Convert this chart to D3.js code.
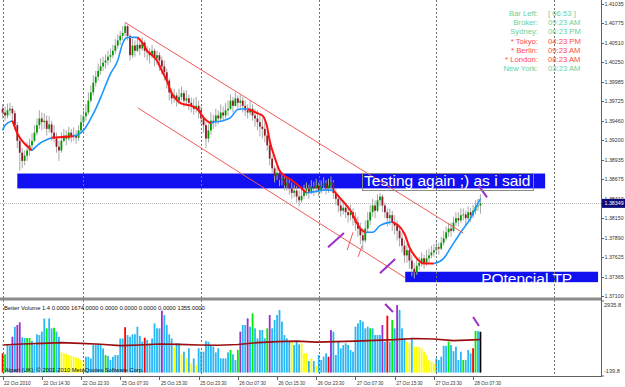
<!DOCTYPE html>
<html>
<head>
<meta charset="utf-8">
<script src="https://cdn.jsdelivr.net/npm/d3@7"></script>
<style>
  body { margin: 0; background: #fff; }
  svg { display: block; font-family: "Liberation Sans", Arial, sans-serif; }
</style>
</head>
<body>
<svg id="chart" width="625" height="387"></svg>
<script>
// EURUSD M30, 22 Oct - 28 Oct 2010
var firstOpen = 1.3962
var closes = [
  1.3957,1.3953,1.3960,1.3962,1.3956,1.3940,1.3919,1.3903,1.3892,1.3899,
  1.3906,1.3913,1.3919,1.3930,1.3940,1.3949,1.3944,1.3946,1.3935,1.3941,
  1.3930,1.3922,1.3911,1.3906,1.3919,1.3926,1.3922,1.3930,1.3925,1.3927,
  1.3923,1.3933,1.3944,1.3952,1.3957,1.3973,1.3984,1.3997,1.4005,1.4013,
  1.4019,1.4024,1.4027,1.4032,1.4034,1.4040,1.4047,1.4054,1.4060,1.4064,
  1.4073,1.4060,1.4034,1.4047,1.4040,1.4048,1.4043,1.4051,1.4040,1.4038,
  1.4034,1.4040,1.4030,1.4034,1.4027,1.4019,1.4011,1.4000,1.3984,1.3976,
  1.3980,1.3973,1.3978,1.3983,1.3973,1.3976,1.3970,1.3966,1.3962,1.3966,
  1.3960,1.3949,1.3940,1.3922,1.3933,1.3946,1.3944,1.3953,1.3949,1.3957,
  1.3953,1.3960,1.3962,1.3973,1.3966,1.3976,1.3970,1.3973,1.3966,1.3960,
  1.3957,1.3962,1.3953,1.3949,1.3944,1.3938,1.3935,1.3926,1.3913,1.3895,
  1.3882,1.3872,1.3876,1.3866,1.3868,1.3859,1.3862,1.3855,1.3849,1.3852,
  1.3844,1.3839,1.3845,1.3852,1.3855,1.3849,1.3858,1.3855,1.3859,1.3852,
  1.3858,1.3862,1.3855,1.3859,1.3863,1.3849,1.3841,1.3832,1.3825,1.3829,
  1.3823,1.3819,1.3823,1.3815,1.3809,1.3801,1.3792,1.3785,1.3801,1.3812,
  1.3823,1.3832,1.3825,1.3839,1.3844,1.3832,1.3823,1.3815,1.3819,1.3809,
  1.3805,1.3798,1.3788,1.3778,1.3765,1.3772,1.3758,1.3747,1.3742,1.3751,
  1.3755,1.3761,1.3755,1.3761,1.3765,1.3769,1.3772,1.3776,1.3774,1.3782,
  1.3788,1.3796,1.3801,1.3798,1.3809,1.3815,1.3812,1.3819,1.3820,1.3815,
  1.3823,1.3819,1.3825,1.3831,1.3832,1.3835
]
var highs = [
  1.3968,1.3965,1.3969,1.3970,1.3966,1.3960,1.3944,1.3922,1.3909,1.3906,
  1.3917,1.3922,1.3929,1.3940,1.3949,1.3960,1.3957,1.3956,1.3953,1.3952,
  1.3946,1.3940,1.3930,1.3919,1.3930,1.3935,1.3933,1.3938,1.3935,1.3937,
  1.3933,1.3940,1.3954,1.3960,1.3968,1.3984,1.3993,1.4007,1.4013,1.4023,
  1.4030,1.4032,1.4035,1.4040,1.4043,1.4048,1.4056,1.4062,1.4067,1.4073,
  1.4078,1.4075,1.4062,1.4056,1.4054,1.4056,1.4054,1.4058,1.4054,1.4047,
  1.4044,1.4048,1.4043,1.4040,1.4038,1.4032,1.4027,1.4016,1.4003,1.3989,
  1.3989,1.3984,1.3989,1.3992,1.3987,1.3987,1.3981,1.3977,1.3976,1.3978,
  1.3973,1.3965,1.3953,1.3944,1.3941,1.3957,1.3954,1.3962,1.3960,1.3968,
  1.3965,1.3970,1.3973,1.3981,1.3978,1.3984,1.3980,1.3981,1.3978,1.3973,
  1.3968,1.3973,1.3968,1.3962,1.3960,1.3954,1.3949,1.3944,1.3933,1.3917,
  1.3899,1.3886,1.3884,1.3879,1.3876,1.3872,1.3871,1.3868,1.3863,1.3860,
  1.3858,1.3852,1.3855,1.3860,1.3863,1.3860,1.3866,1.3864,1.3868,1.3863,
  1.3866,1.3870,1.3866,1.3868,1.3871,1.3866,1.3855,1.3847,1.3839,1.3839,
  1.3836,1.3831,1.3833,1.3828,1.3823,1.3817,1.3809,1.3801,1.3812,1.3823,
  1.3833,1.3841,1.3839,1.3847,1.3849,1.3847,1.3836,1.3828,1.3828,1.3825,
  1.3819,1.3812,1.3804,1.3796,1.3785,1.3780,1.3777,1.3765,1.3755,1.3761,
  1.3763,1.3769,1.3766,1.3772,1.3774,1.3778,1.3780,1.3785,1.3782,1.3790,
  1.3798,1.3804,1.3809,1.3809,1.3817,1.3823,1.3823,1.3828,1.3828,1.3825,
  1.3831,1.3829,1.3833,1.3839,1.3841,1.3847
]
var lows = [
  1.3949,1.3946,1.3949,1.3953,1.3946,1.3933,1.3909,1.3879,1.3882,1.3886,
  1.3892,1.3899,1.3906,1.3917,1.3926,1.3935,1.3933,1.3935,1.3926,1.3930,
  1.3919,1.3917,1.3903,1.3892,1.3903,1.3917,1.3913,1.3919,1.3917,1.3919,
  1.3915,1.3919,1.3930,1.3938,1.3946,1.3954,1.3970,1.3980,1.3992,1.4000,
  1.4008,1.4013,1.4016,1.4021,1.4024,1.4030,1.4036,1.4043,1.4048,1.4054,
  1.4059,1.4054,1.4027,1.4030,1.4032,1.4038,1.4034,1.4040,1.4031,1.4027,
  1.4023,1.4030,1.4019,1.4021,1.4013,1.4008,1.4000,1.3989,1.3973,1.3968,
  1.3970,1.3965,1.3968,1.3973,1.3965,1.3966,1.3960,1.3957,1.3954,1.3957,
  1.3949,1.3941,1.3930,1.3909,1.3917,1.3927,1.3935,1.3938,1.3941,1.3944,
  1.3946,1.3949,1.3953,1.3960,1.3957,1.3965,1.3962,1.3962,1.3957,1.3952,
  1.3949,1.3953,1.3946,1.3938,1.3933,1.3925,1.3922,1.3917,1.3906,1.3886,
  1.3876,1.3863,1.3866,1.3858,1.3859,1.3852,1.3852,1.3847,1.3841,1.3843,
  1.3836,1.3831,1.3836,1.3841,1.3845,1.3841,1.3847,1.3845,1.3849,1.3844,
  1.3848,1.3852,1.3847,1.3849,1.3852,1.3841,1.3833,1.3823,1.3817,1.3820,
  1.3815,1.3809,1.3812,1.3805,1.3798,1.3790,1.3780,1.3772,1.3782,1.3796,
  1.3806,1.3817,1.3815,1.3823,1.3831,1.3823,1.3815,1.3804,1.3806,1.3798,
  1.3793,1.3785,1.3777,1.3769,1.3755,1.3755,1.3747,1.3737,1.3734,1.3739,
  1.3745,1.3750,1.3747,1.3751,1.3755,1.3761,1.3763,1.3766,1.3766,1.3772,
  1.3778,1.3785,1.3790,1.3790,1.3796,1.3804,1.3804,1.3809,1.3812,1.3806,
  1.3812,1.3810,1.3815,1.3820,1.3825,1.3821
]
var bidPrice = 1.38349

// smoothed MA readings: bar index, price, colour of the segment ending there
var maBars = [0,1,4,6,9,11,12,15,20,29,30,33,36,38,40,44,47,49,51,55,57,59,61,63,65,67,69,71,73,77,80,82,85,86,90,93,96,100,104,106,108,109,111,113,115,118,122,124,128,132,135,138,142,146,148,151,154,159,164,166,169,172,176,180,183,187,191,194,195]
var maPrices = [1.3933,1.3940,1.3946,1.3929,1.3915,1.3909,1.3906,1.3915,1.3923,1.3925,1.3926,1.3933,1.3949,1.3962,1.3977,1.4009,1.4027,1.4050,1.4058,1.4058,1.4051,1.4040,1.4034,1.4027,1.4013,1.4000,1.3983,1.3974,1.3969,1.3966,1.3960,1.3950,1.3942,1.3944,1.3946,1.3950,1.3961,1.3962,1.3956,1.3953,1.3937,1.3919,1.3897,1.3879,1.3872,1.3866,1.3855,1.3849,1.3851,1.3853,1.3852,1.3841,1.3825,1.3801,1.3796,1.3796,1.3805,1.3810,1.3794,1.3776,1.3761,1.3754,1.3754,1.3761,1.3776,1.3796,1.3815,1.3835,1.3841]
var maColors = 'bbbrrrrbbrbbbbbbbbbbrrrrrrrrrrrrrbbbbbrrrrrrrrrrbbbrrrrbbbrrrrrbbbbbb'.split('')

// Better Volume sub-window
var volumes = [
  790,750,1130,1100,1470,1880,1950,2060,1450,1420,
  1420,1420,1300,1130,1570,1540,1680,2220,1815,2220,
  1815,1840,1680,1470,830,790,760,720,690,650,
  620,585,520,450,650,650,580,1130,1130,1130,
  1130,995,720,680,520,650,720,720,1400,1400,
  1860,1540,1470,1570,1570,1880,1500,1270,1430,1340,
  1200,1400,2020,1815,1815,2540,2360,1950,1570,1400,
  1060,1200,1200,750,860,585,1000,380,580,310,
  1000,858,858,1295,1268,1131,1063,830,995,585,
  585,585,830,926,749,516,926,1678,1951,1951,
  2225,1883,2430,1815,1405,1746,1746,1405,1815,2362,
  1815,2157,2362,2567,2088,1541,1405,1268,1268,1131,
  1268,1159,1200,790,790,475,585,475,284,721,
  516,653,790,653,1746,1678,721,1268,995,1131,
  1200,1131,926,858,1883,2020,2157,2088,1815,1883,
  1815,1815,1541,1541,1541,1951,1268,2334,1268,2157,
  1815,2772,2567,1815,1405,1270,1200,1430,1060,1060,
  1060,995,858,720,516,450,380,585,516,653,
  1100,1100,1270,1130,880,1063,516,858,516,516,
  926,790,1000,1705,1705,1674
]
var volColors = ('rgccpcppccggccccccgccgccyyyyyyyyyyccccccccgccccccc' +
  'rcccccccrccccccpccccyccycycycycccccccccccccgccgpcc' +
  'pcgcccccgpccccccccycccyyycycyccccrpcccccccccccccc' +
  'cgccccpcrcgcpcccyycyyyyyyyyycccccgcccccgcccrgc').split('')
var volMaBars = [0,8,16,24,32,40,48,56,64,72,80,88,96,104,112,120,128,136,144,152,160,168,176,184,192,195]
var volMa = [1131,1170,1200,1227,1200,1160,1104,1131,1170,1159,1131,1120,1150,1230,1268,1290,1250,1268,1290,1320,1350,1400,1380,1310,1340,1355]
var volMin = -139.8
var volMax = 2935.8

// axes
var priceTicks = [1.41035,1.40775,1.40510,1.40250,1.39985,1.39725,1.39460,1.39200,1.38935,1.38675,1.38410,1.38150,1.37890,1.37625,1.37365,1.37100]
var timeBars = [0,16,32,48,64,80,96,112,128,144,160,176,192]
var timeLabels = ['22 Oct 2010','22 Oct 14:30','22 Oct 22:30','25 Oct 07:30','25 Oct 15:30','25 Oct 23:30','26 Oct 07:30','26 Oct 15:30','26 Oct 23:30','27 Oct 07:30','27 Oct 15:30','27 Oct 23:30','28 Oct 07:30']
var separatorBars = [0,33,81,129,177,225]

// drawn objects (bar index / price)
var rects = [
  {b1: 6, b2: 221.4, p1: 1.3875, p2: 1.3855},
  {b1: 164.3, b2: 243, p1: 1.3743, p2: 1.3729}
]
var channel = [
  [50, 1.4078, 188, 1.3795],
  [55.3, 1.3963, 164.3, 1.3735],
  [140.6, 1.3772, 143.0, 1.3796],
  [145.1, 1.3763, 146.7, 1.3778]
]
var arrows = [
  [132.8, 1.3776, 139.3, 1.3795],
  [154.0, 1.3741, 160.2, 1.3760],
  [194.0, 1.3860, 197.7, 1.3843]
]
var volArrows = [
  [156.1, 2812, 159.3, 2485],
  [192.0, 2280, 194.4, 1911]
]
var texts = [
  {t: 'Testing again ;) as i said', b: 147.5, p: 1.3858, box: [146.7, 216.5, 1.3876, 1.3853]},
  {t: 'POtencial TP', b: 195.3, p: 1.3727}
]
var clockNames = ['Bar Left:', 'Broker:', 'Sydney:', '* Tokyo:', '* Berlin:', '* London:', 'New York:']
var clockValues = ['[ 06:53 ]', '09:23 AM', '06:23 PM', '04:23 PM', '09:23 AM', '08:23 AM', '03:23 AM']
var clockOpen = [0, 0, 0, 1, 1, 1, 0]

var svg = d3.select('#chart')
var x = d3.scaleLinear().domain([0, 244.2]).range([2.6, 601])
var y = d3.scaleLinear().domain([1.37100, 1.41035]).range([296.3, 3.5])
var yv = d3.scaleLinear().domain([volMin, volMax]).range([376, 301])

var volPalette = {c: '#2ab8f4', y: '#ffff00', g: '#00ee00', r: '#ff0000', p: '#9a30c8'}

svg.append('rect').attr('width', 625).attr('height', 387).attr('fill', '#fff')

var defs = svg.append('defs')
defs.append('clipPath').attr('id', 'mainClip')
  .append('rect').attr('x', 0).attr('y', 0).attr('width', 601).attr('height', 297)
defs.append('clipPath').attr('id', 'subClip')
  .append('rect').attr('x', 0).attr('y', 301).attr('width', 601).attr('height', 75)

var main = svg.append('g').attr('clip-path', 'url(#mainClip)')
var sub = svg.append('g').attr('clip-path', 'url(#subClip)')

// background rectangles
main.selectAll('rect.zone')
  .data(rects)
  .enter()
  .append('rect')
  .attr('x', function (d) { return x(d.b1) })
  .attr('width', function (d) { return x(d.b2) - x(d.b1) })
  .attr('y', function (d) { return y(d.p1) })
  .attr('height', function (d) { return y(d.p2) - y(d.p1) })
  .attr('fill', '#1010f0')

// period separators
svg.selectAll('line.sep')
  .data(separatorBars)
  .enter()
  .append('line')
  .attr('x1', function (d) { return Math.round(x(d)) + 0.5 })
  .attr('x2', function (d) { return Math.round(x(d)) + 0.5 })
  .attr('y1', 0)
  .attr('y2', 376)
  .attr('stroke', '#707070')
  .attr('stroke-dasharray', '2,2')

// bid line
main.append('line')
  .attr('x1', 0).attr('x2', 601)
  .attr('y1', Math.round(y(bidPrice)) + 0.5)
  .attr('y2', Math.round(y(bidPrice)) + 0.5)
  .attr('stroke', '#b8b8b8')
  .attr('stroke-dasharray', '1,1')

// candles
var bars = closes.map(function (c, i) {
  var o = i ? closes[i - 1] : firstOpen
  return {i: i, o: o, c: c, h: Math.max(highs[i], o, c), l: Math.min(lows[i], o, c)}
})
var candle = main.selectAll('g.candle')
  .data(bars)
  .enter()
  .append('g')
candle.append('line')
  .attr('x1', function (d) { return x(d.i) })
  .attr('x2', function (d) { return x(d.i) })
  .attr('y1', function (d) { return y(d.h) })
  .attr('y2', function (d) { return y(d.l) })
  .attr('stroke', '#a8a8a8')
  .attr('stroke-width', 1)
candle.append('rect')
  .attr('x', function (d) { return x(d.i) - 0.9 })
  .attr('width', 1.8)
  .attr('y', function (d) { return y(Math.max(d.o, d.c)) })
  .attr('height', function (d) { return Math.max(0.8, Math.abs(y(d.o) - y(d.c))) })
  .attr('fill', function (d) { return d.c > d.o ? '#009a00' : d.c < d.o ? '#8e1b2a' : '#a8a8a8' })

// colour-switching moving average
var runs = []
for (var k = 1; k < maBars.length; k++) {
  if (!runs.length || runs[runs.length - 1].c !== maColors[k]) {
    runs.push({c: maColors[k], pts: [[maBars[k - 1], maPrices[k - 1]]]})
  }
  runs[runs.length - 1].pts.push([maBars[k], maPrices[k]])
}
var maLine = d3.line()
  .x(function (d) { return x(d[0]) })
  .y(function (d) { return y(d[1]) })
  .curve(d3.curveMonotoneX)
main.selectAll('path.ma')
  .data(runs)
  .enter()
  .append('path')
  .attr('d', function (d) { return maLine(d.pts) })
  .attr('fill', 'none')
  .attr('stroke', function (d) { return d.c === 'r' ? '#ff1010' : '#1e96ff' })
  .attr('stroke-width', function (d) { return d.c === 'r' ? 2 : 1.6 })

// channel and small trend lines
main.selectAll('line.trend')
  .data(channel)
  .enter()
  .append('line')
  .attr('x1', function (d) { return x(d[0]) })
  .attr('y1', function (d) { return y(d[1]) })
  .attr('x2', function (d) { return x(d[2]) })
  .attr('y2', function (d) { return y(d[3]) })
  .attr('stroke', '#f05a5a')
  .attr('stroke-width', 1)

main.selectAll('line.arrow')
  .data(arrows)
  .enter()
  .append('line')
  .attr('x1', function (d) { return x(d[0]) })
  .attr('y1', function (d) { return y(d[1]) })
  .attr('x2', function (d) { return x(d[2]) })
  .attr('y2', function (d) { return y(d[3]) })
  .attr('stroke', '#9a30c8')
  .attr('stroke-width', 2)

// text objects
texts.forEach(function (d) {
  if (d.box) {
    main.append('rect')
      .attr('x', Math.round(x(d.box[0])) + 0.5)
      .attr('y', Math.round(y(d.box[2])) + 0.5)
      .attr('width', Math.round(x(d.box[1]) - x(d.box[0])))
      .attr('height', Math.round(y(d.box[3]) - y(d.box[2])))
      .attr('fill', 'none')
      .attr('stroke', '#8c8c8c')
  }
  main.append('text')
    .attr('x', x(d.b))
    .attr('y', y(d.p))
    .attr('fill', '#fff')
    .style('font-size', '15.5px')
    .text(d.t)
})

// session clock
var clock = svg.append('g').style('font-size', '7.7px')
clock.selectAll('text.name')
  .data(clockNames)
  .enter()
  .append('text')
  .attr('x', 538)
  .attr('y', function (d, i) { return 16 + i * 9.2 })
  .attr('text-anchor', 'end')
  .attr('fill', function (d, i) { return clockOpen[i] ? '#ff4a4a' : '#6ccf9c' })
  .text(function (d) { return d })
clock.selectAll('text.val')
  .data(clockValues)
  .enter()
  .append('text')
  .attr('x', 548)
  .attr('y', function (d, i) { return 16 + i * 9.2 })
  .attr('fill', function (d, i) { return clockOpen[i] ? '#ff4a4a' : '#6ccf9c' })
  .text(function (d) { return d })

// sub-window
svg.append('rect')
  .attr('x', 0).attr('y', 297.5).attr('width', 602).attr('height', 3)
  .attr('fill', '#8c8c8c')

sub.selectAll('rect.vol')
  .data(volumes)
  .enter()
  .append('rect')
  .attr('x', function (d, i) { return x(i) - 0.9 })
  .attr('width', 1.8)
  .attr('y', function (d) { return yv(d) })
  .attr('height', function (d) { return yv(0) - yv(d) })
  .attr('fill', function (d, i) { return volPalette[volColors[i]] })

var volLine = d3.line()
  .x(function (d, i) { return x(volMaBars[i]) })
  .y(function (d) { return yv(d) })
sub.append('path')
  .attr('d', volLine(volMa))
  .attr('fill', 'none')
  .attr('stroke', '#9a1010')
  .attr('stroke-width', 1.6)

sub.selectAll('line.varrow')
  .data(volArrows)
  .enter()
  .append('line')
  .attr('x1', function (d) { return x(d[0]) })
  .attr('y1', function (d) { return yv(d[1]) })
  .attr('x2', function (d) { return x(d[2]) })
  .attr('y2', function (d) { return yv(d[3]) })
  .attr('stroke', '#9a30c8')
  .attr('stroke-width', 2)

svg.append('text')
  .attr('x', 4).attr('y', 310)
  .style('font-size', '5.8px')
  .attr('fill', '#111')
  .text('Better Volume 1.4 0.0000 ' + volumes[volumes.length - 1].toFixed(4) + ' 0.0000 0.0000 0.0000 0.0000 ' + volMa[volMa.length - 1].toFixed(4))
svg.append('text')
  .attr('x', 5).attr('y', 372)
  .style('font-size', '5.8px')
  .attr('fill', '#111')
  .text('Alpari (UK), \u00a9 2001-2010 MetaQuotes Software Corp.')

// price scale
svg.append('line')
  .attr('x1', 601.5).attr('x2', 601.5).attr('y1', 0).attr('y2', 377)
  .attr('stroke', '#606060')
svg.selectAll('line.ptick')
  .data(priceTicks)
  .enter()
  .append('line')
  .attr('x1', 601.5).attr('x2', 604)
  .attr('y1', function (d) { return Math.round(y(d)) + 0.5 })
  .attr('y2', function (d) { return Math.round(y(d)) + 0.5 })
  .attr('stroke', '#606060')
svg.selectAll('text.ptick')
  .data(priceTicks)
  .enter()
  .append('text')
  .attr('x', 604.5)
  .attr('y', function (d) { return Math.min(y(d) + 2, 299) })
  .style('font-size', '5.3px')
  .attr('fill', '#333')
  .text(function (d) { return d.toFixed(5) })

svg.append('rect')
  .attr('x', 602).attr('y', y(bidPrice) - 4.5)
  .attr('width', 23).attr('height', 9)
  .attr('fill', '#0a0a78')
svg.append('text')
  .attr('x', 604.5).attr('y', y(bidPrice) + 2)
  .style('font-size', '5.3px')
  .attr('fill', '#fff')
  .text(bidPrice.toFixed(5))

svg.selectAll('text.vtick')
  .data([[volMax, 307], [volMin, 373]])
  .enter()
  .append('text')
  .attr('x', 604)
  .attr('y', function (d) { return d[1] })
  .style('font-size', '5.6px')
  .attr('fill', '#333')
  .text(function (d) { return d[0].toFixed(1) })
svg.selectAll('line.vtick')
  .data([volMax, volMin])
  .enter()
  .append('line')
  .attr('x1', 601.5).attr('x2', 604)
  .attr('y1', function (d) { return yv(d) })
  .attr('y2', function (d) { return yv(d) })
  .attr('stroke', '#606060')

// time scale
svg.append('line')
  .attr('x1', 0).attr('x2', 602).attr('y1', 376.5).attr('y2', 376.5)
  .attr('stroke', '#606060')
svg.selectAll('line.ttick')
  .data(timeBars)
  .enter()
  .append('line')
  .attr('x1', function (d) { return Math.round(x(d)) + 0.5 })
  .attr('x2', function (d) { return Math.round(x(d)) + 0.5 })
  .attr('y1', 376.5).attr('y2', 380)
  .attr('stroke', '#606060')
svg.selectAll('text.ttick')
  .data(timeBars)
  .enter()
  .append('text')
  .attr('x', function (d) { return x(d) + 1.5 })
  .attr('y', 384.5)
  .style('font-size', '5.8px')
  .attr('fill', '#333')
  .attr('textLength', 26.5)
  .attr('lengthAdjust', 'spacingAndGlyphs')
  .text(function (d, i) { return timeLabels[i] })
</script>
</body>
</html>
